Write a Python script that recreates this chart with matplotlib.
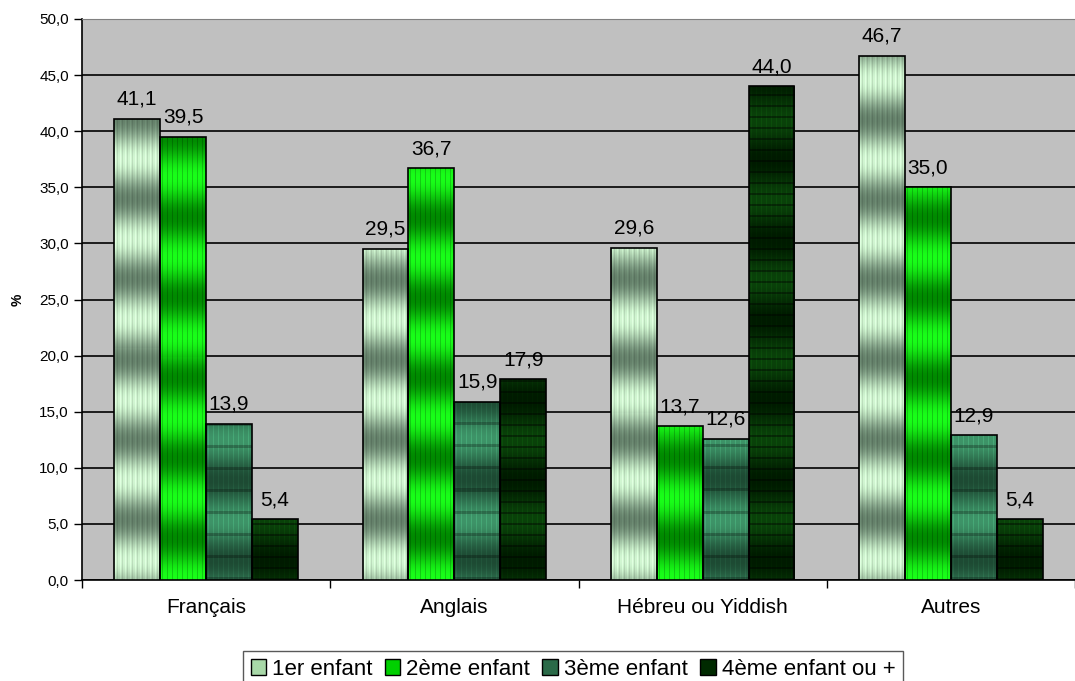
import numpy as np
import matplotlib
matplotlib.use("Agg")
import matplotlib.pyplot as plt
from matplotlib.patches import Rectangle

categories = ["Français", "Anglais", "Hébreu ou Yiddish", "Autres"]
series_names = ["1er enfant", "2ème enfant", "3ème enfant", "4ème enfant ou +"]
enfant1 = [41.1, 29.5, 29.6, 46.7]
enfant2 = [39.5, 36.7, 13.7, 35.0]
enfant3 = [13.9, 15.9, 12.6, 12.9]
enfant4 = [5.4, 17.9, 44.0, 5.4]
values = [enfant1, enfant2, enfant3, enfant4]

# light / dark colours of the gradient for each series
light_cols = ["#d2f7d2", "#19ff19", "#3e9468", "#0a420a"]
dark_cols = ["#64806a", "#008a00", "#1d4a33", "#001a00"]
legend_cols = ["#a8d8a8", "#00d000", "#2a6a48", "#002a00"]

plt.rcParams['font.family'] = ['Liberation Sans', 'DejaVu Sans']

W, H, DPI = 1075, 681, 100
fig = plt.figure(figsize=(W / DPI, H / DPI), dpi=DPI)
ax = fig.add_axes([82 / W, 1 - 580 / H, 1 - 82 / W, (580 - 19) / H])
ax.set_facecolor("#c0c0c0")

ymax = 50.0
px_per_unit = (580 - 19) / ymax
bw = 0.185
offsets = (np.arange(4) - 1.5) * bw
x = np.arange(len(categories))


def hex2rgb(h):
    return np.array(matplotlib.colors.to_rgb(h))


def texture(kind, nrows, ncols):
    ys = np.arange(nrows)[:, None] + 0.5
    xs = np.arange(ncols)[None, :]
    phase = [340, 322, 300, 300][kind]
    band = 0.5 + 0.5 * np.cos(2 * np.pi * (ys - phase) / 80.0)
    lt, dk = hex2rgb(light_cols[kind]), hex2rgb(dark_cols[kind])
    img = dk + (lt - dk) * band[..., None]
    img = np.broadcast_to(img, (nrows, ncols, 3)).copy()
    col_mod = xs % 5
    if kind == 0:
        img[:, (col_mod == 1)[0]] *= 1.08
        img[:, (col_mod == 3)[0]] *= 0.9
    elif kind == 1:
        img[:, (col_mod == 2)[0]] *= 0.8
    elif kind == 2:
        img[:, (col_mod == 2)[0]] *= 1.15
        rows = ((np.arange(nrows) % 22) < 3)
        img[rows] *= 0.75
    else:
        img[:, (col_mod == 2)[0]] *= 1.2
        rows = ((np.arange(nrows) % 11) < 2)
        img[rows] *= 0.6
    return np.clip(img, 0, 1)


for k, vals in enumerate(values):
    for i, v in enumerate(vals):
        x0 = x[i] + offsets[k] - bw / 2
        nrows = max(int(round(v * px_per_unit)), 1)
        img = texture(k, nrows, 46)
        im = ax.imshow(img, extent=(x0, x0 + bw, 0, v), origin="lower",
                       aspect="auto", interpolation="nearest", zorder=3)
        rect = Rectangle((x0, 0), bw, v, facecolor="none",
                         edgecolor="black", linewidth=1.2, zorder=4)
        ax.add_patch(rect)
        im.set_clip_path(rect)
        ax.text(x[i] + offsets[k], v + 0.9, f"{v:.1f}".replace(".", ","),
                ha="center", va="bottom", fontsize=15, zorder=5)

ax.set_xlim(-0.5, len(categories) - 0.5)
ax.set_ylim(0, ymax)
yt = np.arange(0, 50.1, 5)
ax.set_yticks(yt)
ax.set_yticklabels([f"{t:.1f}".replace(".", ",") for t in yt], fontsize=11)
ax.yaxis.grid(True, color="black", linewidth=1.2)
ax.set_axisbelow(True)

ax.set_xticks(x)
ax.set_xticklabels(categories, fontsize=15)
ax.tick_params(axis="x", length=0, pad=13)
ax.set_xticks(np.arange(-0.5, len(categories)), minor=True)
ax.tick_params(axis="x", which="minor", length=6, width=1, direction="out")
ax.tick_params(axis="y", length=6, width=1, direction="out")

ax.spines["top"].set_color("#808080")
ax.spines["right"].set_visible(False)
ax.spines["left"].set_linewidth(1.2)
ax.spines["bottom"].set_linewidth(1.2)

fig.text(18 / W, 1 - 300 / H, "%", rotation=90, fontsize=10,
         fontweight="bold", ha="center", va="center")

handles = [Rectangle((0, 0), 1, 1, facecolor=c, edgecolor="black", linewidth=1)
           for c in legend_cols]
leg = fig.legend(handles, series_names, loc="upper center",
                 bbox_to_anchor=(573 / W, 1 - 651 / H), ncol=4, fontsize=16,
                 frameon=True, fancybox=False, handlelength=0.7,
                 handleheight=0.7, handletextpad=0.27, columnspacing=0.55,
                 borderpad=0.35, borderaxespad=0)
leg.get_frame().set_edgecolor("#303030")
leg.get_frame().set_linewidth(1)

fig.savefig("out.png", dpi=DPI)
